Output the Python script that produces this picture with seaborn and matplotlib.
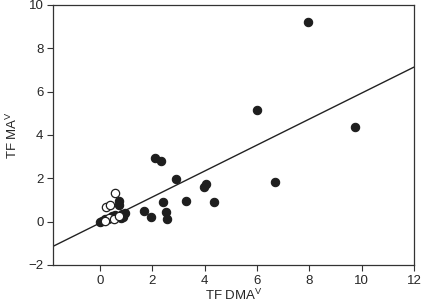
import numpy as np
import pandas as pd
import seaborn as sns
import matplotlib
matplotlib.use("Agg")
import matplotlib.pyplot as plt

# filled points
dma_filled = [7.95, 9.75, 6.0, 6.7, 2.12, 2.33, 2.92, 3.98, 4.06, 3.28, 4.35, 2.42,
              1.70, 1.96, 2.53, 2.55,
              0.75, 0.74, 0.0, 0.1, 0.2, 0.3, 0.45, 0.6, 0.85, 0.9, 0.95, 0.8]
ma_filled = [9.2, 4.38, 5.16, 1.84, 2.95, 2.8, 1.98, 1.61, 1.74, 0.94, 0.92, 0.89,
             0.5, 0.22, 0.45, 0.11,
             0.95, 0.75, 0.0, 0.05, 0.1, 0.1, 0.25, 0.3, 0.35, 0.2, 0.4, 0.15]
# open points
dma_open = [0.6, 0.23, 0.4, 0.37, 0.56, 0.72, 0.2]
ma_open = [1.3, 0.66, 0.78, 0.18, 0.1, 0.28, 0.05]

# fitted line
slope = 0.6
intercept = -0.07

df = pd.DataFrame({
    "dma": dma_filled + dma_open,
    "ma": ma_filled + ma_open,
    "grp": ["filled"] * len(dma_filled) + ["open"] * len(dma_open),
})

sns.set_style("ticks")
plt.rcParams["font.family"] = ["Liberation Sans", "DejaVu Sans"]
plt.rcParams["mathtext.default"] = "regular"

fig = plt.figure(figsize=(4.22, 3.07), dpi=100)
ax = fig.add_axes([0.126, 0.137, 0.855, 0.847])

ax.axline((0, intercept), slope=slope, color="#222222", lw=1.0, zorder=1)
sns.scatterplot(data=df[df.grp == "filled"], x="dma", y="ma", color="#1e1e1e",
                edgecolor="#1e1e1e", s=36, linewidth=0.8, ax=ax, zorder=2)
sns.scatterplot(data=df[df.grp == "open"], x="dma", y="ma", facecolor="white",
                edgecolor="#1e1e1e", s=36, linewidth=0.9, ax=ax, zorder=3)

ax.set_xlim(-1.78, 12)
ax.set_ylim(-2, 10)
ax.set_xticks([0, 2, 4, 6, 8, 10, 12])
ax.set_yticks([-2, 0, 2, 4, 6, 8, 10])
ax.set_yticklabels(["\u22122", "0", "2", "4", "6", "8", "10"])
ax.set_xlabel("TF DMA$^{V}$", fontsize=9.5, labelpad=1)
ax.set_ylabel("TF MA$^{V}$", fontsize=9.5, labelpad=6)
ax.tick_params(labelsize=9.5, length=4, width=0.8, color="#333333", pad=3)
for axis in ['top', 'bottom', 'left', 'right']:
    ax.spines[axis].set_linewidth(0.9)
    ax.spines[axis].set_color("#333333")
ax.spines[['right', 'top']].set_visible(True)

plt.savefig("out.png", dpi=100)
